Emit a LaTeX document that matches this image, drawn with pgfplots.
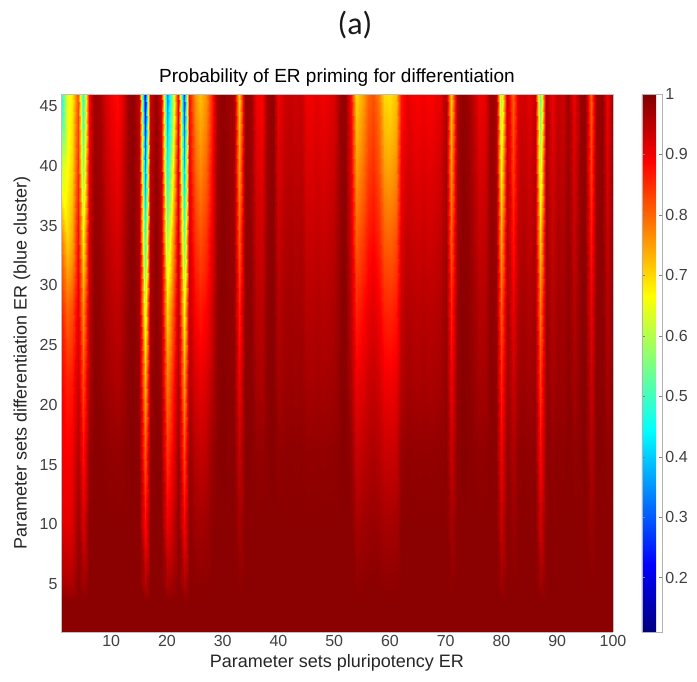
\documentclass[border=0pt]{standalone}
\usepackage{pgfplots}
\pgfplotsset{compat=1.18}
\usepackage{fontspec}
\setmainfont{Liberation Sans}
\newfontfamily\capfont{Carlito}
\begin{document}
\begin{tikzpicture}
\useasboundingbox (0,0) rectangle (697pt,682pt);
\node[font=\capfont\fontsize{32}{36}\selectfont, text=black!90] at (355pt,657pt) {(a)};
\begin{axis}[
  at={(61pt,50pt)}, anchor=south west,
  scale only axis, width=552pt, height=538pt,
  view={0}{90},
  xmin=1, xmax=100, ymin=1, ymax=46,
  xtick={10,20,30,40,50,60,70,80,90,100},
  ytick={5,10,15,20,25,30,35,40,45},
  major tick length=0pt,
  axis line style={black!25},
  tick label style={font=\fontsize{16}{18}\selectfont, text=black!75},
  /pgf/number format/assume math mode=true,
  colormap/jet, point meta min=0.11, point meta max=1,
  colorbar,
  colorbar shift/.style={xshift=29pt},
  colorbar style={
    at={(parent axis.north east)}, anchor=north west,
    width=20pt,
    ytick={0.2,0.3,0.4,0.5,0.6,0.7,0.8,0.9,1},
    yticklabel style={font=\fontsize{16}{18}\selectfont, text=black!75},
    /pgf/number format/assume math mode=true,
    axis line style={black!30},
    major tick length=3pt,
    ytick style={black!50},
    yticklabel pos=right,
  },
  xlabel={Parameter sets pluripotency ER},
  ylabel={Parameter sets differentiation ER (blue cluster)},
  every axis x label/.style={at={(axis description cs:0.5,-0.058)}, anchor=center, font=\fontsize{18}{20}\selectfont, text=black!85},
  every axis y label/.style={at={(axis description cs:-0.0706,0.5)}, rotate=90, anchor=center, font=\fontsize{18}{20}\selectfont, text=black!85},
  title={Probability of ER priming for differentiation},
  title style={at={(axis description cs:0.5,1)}, anchor=base, yshift=6pt, font=\fontsize{19}{21}\selectfont, text=black},
]
\addplot3[surf, shader=interp, point meta=z, mesh/ordering=y varies] coordinates {
(1,1,0.99) (1,3.6,0.99) (1,5,0.97) (1,10,0.92) (1,16,0.90) (1,22,0.89) (1,28,0.86) (1,34,0.78) (1,40,0.62) (1,46,0.45)

(2,1,0.99) (2,3.6,0.99) (2,5,0.96) (2,10,0.91) (2,16,0.89) (2,22,0.86) (2,28,0.80) (2,34,0.70) (2,40,0.66) (2,46,0.64)

(3,1,0.99) (3,3.6,0.99) (3,5,0.96) (3,10,0.92) (3,16,0.90) (3,22,0.87) (3,28,0.82) (3,34,0.74) (3,40,0.70) (3,46,0.68)

(4,1,0.99) (4,3.6,0.99) (4,5,0.990) (4,10,0.978) (4,16,0.960) (4,22,0.939) (4,28,0.915) (4,34,0.883) (4,40,0.850) (4,46,0.82)

(5,1,0.99) (5,3.6,0.99) (5,5,0.969) (5,10,0.922) (5,16,0.874) (5,22,0.822) (5,28,0.759) (5,34,0.670) (5,40,0.565) (5,46,0.47)

(6,1,0.99) (6,3.6,0.99) (6,5,0.99) (6,10,0.99) (6,16,0.982) (6,22,0.961) (6,28,0.948) (6,34,0.930) (6,40,0.911) (6,46,0.89)

(7,1,0.99) (7,3.6,0.99) (7,5,0.99) (7,10,0.99) (7,16,0.991) (7,22,0.989) (7,28,0.986) (7,34,0.983) (7,40,0.979) (7,46,0.975)

(8,1,0.99) (8,3.6,0.99) (8,5,0.99) (8,10,0.99) (8,16,0.989) (8,22,0.985) (8,28,0.982) (8,34,0.976) (8,40,0.971) (8,46,0.965)

(9,1,0.99) (9,3.6,0.99) (9,5,0.99) (9,10,0.99) (9,16,0.985) (9,22,0.971) (9,28,0.961) (9,34,0.949) (9,40,0.935) (9,46,0.92)

(10,1,0.99) (10,3.6,0.99) (10,5,0.99) (10,10,0.99) (10,16,0.983) (10,22,0.965) (10,28,0.952) (10,34,0.936) (10,40,0.919) (10,46,0.90)

(11,1,0.99) (11,3.6,0.99) (11,5,0.99) (11,10,0.99) (11,16,0.981) (11,22,0.958) (11,28,0.943) (11,34,0.924) (11,40,0.903) (11,46,0.88)

(12,1,0.99) (12,3.6,0.99) (12,5,0.99) (12,10,0.99) (12,16,0.984) (12,22,0.968) (12,28,0.957) (12,34,0.942) (12,40,0.927) (12,46,0.91)

(13,1,0.99) (13,3.6,0.99) (13,5,0.99) (13,10,0.99) (13,16,0.991) (13,22,0.989) (13,28,0.986) (13,34,0.983) (13,40,0.979) (13,46,0.975)

(14,1,0.99) (14,3.6,0.99) (14,5,0.99) (14,10,0.99) (14,16,0.993) (14,22,0.992) (14,28,0.991) (14,34,0.989) (14,40,0.987) (14,46,0.985)

(15,1,0.99) (15,3.6,0.99) (15,5,0.99) (15,10,0.99) (15,16,0.987) (15,22,0.977) (15,28,0.970) (15,34,0.961) (15,40,0.951) (15,46,0.94)

(16,1,0.99) (16,3.6,0.99) (16,5,0.954) (16,10,0.881) (16,16,0.808) (16,22,0.726) (16,28,0.628) (16,34,0.490) (16,40,0.327) (16,46,0.18)

(17,1,0.99) (17,3.6,0.99) (17,5,0.99) (17,10,0.99) (17,16,0.986) (17,22,0.974) (17,28,0.966) (17,34,0.955) (17,40,0.943) (17,46,0.93)

(18,1,0.99) (18,3.6,0.99) (18,5,0.99) (18,10,0.99) (18,16,0.993) (18,22,0.992) (18,28,0.991) (18,34,0.989) (18,40,0.987) (18,46,0.985)

(19,1,0.99) (19,3.6,0.99) (19,5,0.99) (19,10,0.99) (19,16,0.985) (19,22,0.971) (19,28,0.961) (19,34,0.949) (19,40,0.935) (19,46,0.92)

(20,1,0.99) (20,3.6,0.99) (20,5,0.962) (20,10,0.902) (20,16,0.842) (20,22,0.776) (20,28,0.696) (20,34,0.583) (20,40,0.450) (20,46,0.33)

(21,1,0.99) (21,3.6,0.99) (21,5,0.975) (21,10,0.940) (21,16,0.904) (21,22,0.865) (21,28,0.817) (21,34,0.750) (21,40,0.671) (21,46,0.60)

(22,1,0.99) (22,3.6,0.99) (22,5,0.99) (22,10,0.99) (22,16,0.983) (22,22,0.965) (22,28,0.952) (22,34,0.936) (22,40,0.919) (22,46,0.90)

(23,1,0.99) (23,3.6,0.99) (23,5,0.958) (23,10,0.891) (23,16,0.824) (23,22,0.749) (23,28,0.660) (23,34,0.533) (23,40,0.384) (23,46,0.25)

(24,1,0.99) (24,3.6,0.99) (24,5,0.99) (24,10,0.99) (24,16,0.981) (24,22,0.958) (24,28,0.943) (24,34,0.924) (24,40,0.903) (24,46,0.88)

(25,1,0.99) (25,3.6,0.99) (25,5,0.988) (25,10,0.972) (25,16,0.948) (25,22,0.920) (25,28,0.887) (25,34,0.845) (25,40,0.800) (25,46,0.76)

(26,1,0.99) (26,3.6,0.99) (26,5,0.987) (26,10,0.968) (26,16,0.940) (26,22,0.907) (26,28,0.869) (26,34,0.819) (26,40,0.767) (26,46,0.72)

(27,1,0.99) (27,3.6,0.99) (27,5,0.988) (27,10,0.972) (27,16,0.948) (27,22,0.920) (27,28,0.887) (27,34,0.845) (27,40,0.800) (27,46,0.76)

(28,1,0.99) (28,3.6,0.99) (28,5,0.99) (28,10,0.99) (28,16,0.979) (28,22,0.952) (28,28,0.934) (28,34,0.911) (28,40,0.887) (28,46,0.86)

(29,1,0.99) (29,3.6,0.99) (29,5,0.99) (29,10,0.99) (29,16,0.991) (29,22,0.989) (29,28,0.986) (29,34,0.983) (29,40,0.979) (29,46,0.975)

(30,1,0.99) (30,3.6,0.99) (30,5,0.99) (30,10,0.99) (30,16,0.993) (30,22,0.992) (30,28,0.991) (30,34,0.989) (30,40,0.987) (30,46,0.985)

(31,1,0.99) (31,3.6,0.99) (31,5,0.99) (31,10,0.99) (31,16,0.991) (31,22,0.989) (31,28,0.986) (31,34,0.983) (31,40,0.979) (31,46,0.975)

(32,1,0.99) (32,3.6,0.99) (32,5,0.99) (32,10,0.99) (32,16,0.989) (32,22,0.985) (32,28,0.982) (32,34,0.976) (32,40,0.971) (32,46,0.965)

(33,1,0.99) (33,3.6,0.99) (33,5,0.986) (33,10,0.966) (33,16,0.936) (33,22,0.901) (33,28,0.859) (33,34,0.806) (33,40,0.750) (33,46,0.70)

(34,1,0.99) (34,3.6,0.99) (34,5,0.99) (34,10,0.99) (34,16,0.993) (34,22,0.992) (34,28,0.991) (34,34,0.989) (34,40,0.987) (34,46,0.985)

(35,1,0.99) (35,3.6,0.99) (35,5,0.99) (35,10,0.99) (35,16,0.991) (35,22,0.989) (35,28,0.986) (35,34,0.983) (35,40,0.979) (35,46,0.975)

(36,1,0.99) (36,3.6,0.99) (36,5,0.99) (36,10,0.99) (36,16,0.983) (36,22,0.965) (36,28,0.952) (36,34,0.936) (36,40,0.919) (36,46,0.90)

(37,1,0.99) (37,3.6,0.99) (37,5,0.99) (37,10,0.99) (37,16,0.982) (37,22,0.961) (37,28,0.948) (37,34,0.930) (37,40,0.911) (37,46,0.89)

(38,1,0.99) (38,3.6,0.99) (38,5,0.99) (38,10,0.99) (38,16,0.991) (38,22,0.989) (38,28,0.986) (38,34,0.983) (38,40,0.979) (38,46,0.975)

(39,1,0.99) (39,3.6,0.99) (39,5,0.99) (39,10,0.99) (39,16,0.993) (39,22,0.992) (39,28,0.991) (39,34,0.989) (39,40,0.987) (39,46,0.985)

(40,1,0.99) (40,3.6,0.99) (40,5,0.99) (40,10,0.99) (40,16,0.983) (40,22,0.965) (40,28,0.952) (40,34,0.936) (40,40,0.919) (40,46,0.90)

(41,1,0.99) (41,3.6,0.99) (41,5,0.99) (41,10,0.99) (41,16,0.986) (41,22,0.974) (41,28,0.966) (41,34,0.955) (41,40,0.943) (41,46,0.93)

(42,1,0.99) (42,3.6,0.99) (42,5,0.99) (42,10,0.99) (42,16,0.987) (42,22,0.977) (42,28,0.970) (42,34,0.961) (42,40,0.951) (42,46,0.94)

(43,1,0.99) (43,3.6,0.99) (43,5,0.99) (43,10,0.99) (43,16,0.986) (43,22,0.974) (43,28,0.966) (43,34,0.955) (43,40,0.943) (43,46,0.93)

(44,1,0.99) (44,3.6,0.99) (44,5,0.99) (44,10,0.99) (44,16,0.987) (44,22,0.977) (44,28,0.970) (44,34,0.961) (44,40,0.951) (44,46,0.94)

(45,1,0.99) (45,3.6,0.99) (45,5,0.99) (45,10,0.99) (45,16,0.983) (45,22,0.965) (45,28,0.952) (45,34,0.936) (45,40,0.919) (45,46,0.90)

(46,1,0.99) (46,3.6,0.99) (46,5,0.99) (46,10,0.99) (46,16,0.983) (46,22,0.965) (46,28,0.952) (46,34,0.936) (46,40,0.919) (46,46,0.90)

(47,1,0.99) (47,3.6,0.99) (47,5,0.99) (47,10,0.99) (47,16,0.984) (47,22,0.968) (47,28,0.957) (47,34,0.942) (47,40,0.927) (47,46,0.91)

(48,1,0.99) (48,3.6,0.99) (48,5,0.99) (48,10,0.99) (48,16,0.983) (48,22,0.965) (48,28,0.952) (48,34,0.936) (48,40,0.919) (48,46,0.90)

(49,1,0.99) (49,3.6,0.99) (49,5,0.99) (49,10,0.99) (49,16,0.984) (49,22,0.968) (49,28,0.957) (49,34,0.942) (49,40,0.927) (49,46,0.91)

(50,1,0.99) (50,3.6,0.99) (50,5,0.99) (50,10,0.99) (50,16,0.985) (50,22,0.971) (50,28,0.961) (50,34,0.949) (50,40,0.935) (50,46,0.92)

(51,1,0.99) (51,3.6,0.99) (51,5,0.99) (51,10,0.99) (51,16,0.991) (51,22,0.989) (51,28,0.986) (51,34,0.983) (51,40,0.979) (51,46,0.975)

(52,1,0.99) (52,3.6,0.99) (52,5,0.99) (52,10,0.99) (52,16,0.993) (52,22,0.992) (52,28,0.991) (52,34,0.989) (52,40,0.987) (52,46,0.985)

(53,1,0.99) (53,3.6,0.99) (53,5,0.99) (53,10,0.99) (53,16,0.981) (53,22,0.958) (53,28,0.943) (53,34,0.924) (53,40,0.903) (53,46,0.88)

(54,1,0.99) (54,3.6,0.99) (54,5,0.986) (54,10,0.966) (54,16,0.936) (54,22,0.901) (54,28,0.859) (54,34,0.806) (54,40,0.750) (54,46,0.70)

(55,1,0.99) (55,3.6,0.99) (55,5,0.987) (55,10,0.970) (55,16,0.944) (55,22,0.913) (55,28,0.878) (55,34,0.832) (55,40,0.783) (55,46,0.74)

(56,1,0.99) (56,3.6,0.99) (56,5,0.989) (56,10,0.976) (56,16,0.956) (56,22,0.933) (56,28,0.905) (56,34,0.870) (56,40,0.833) (56,46,0.80)

(57,1,0.99) (57,3.6,0.99) (57,5,0.990) (57,10,0.978) (57,16,0.960) (57,22,0.939) (57,28,0.915) (57,34,0.883) (57,40,0.850) (57,46,0.82)

(58,1,0.99) (58,3.6,0.99) (58,5,0.989) (58,10,0.974) (58,16,0.952) (58,22,0.926) (58,28,0.896) (58,34,0.857) (58,40,0.817) (58,46,0.78)

(59,1,0.99) (59,3.6,0.99) (59,5,0.986) (59,10,0.966) (59,16,0.936) (59,22,0.901) (59,28,0.859) (59,34,0.806) (59,40,0.750) (59,46,0.70)

(60,1,0.99) (60,3.6,0.99) (60,5,0.986) (60,10,0.965) (60,16,0.934) (60,22,0.897) (60,28,0.855) (60,34,0.800) (60,40,0.742) (60,46,0.69)

(61,1,0.99) (61,3.6,0.99) (61,5,0.987) (61,10,0.968) (61,16,0.940) (61,22,0.907) (61,28,0.869) (61,34,0.819) (61,40,0.767) (61,46,0.72)

(62,1,0.99) (62,3.6,0.99) (62,5,0.99) (62,10,0.99) (62,16,0.980) (62,22,0.955) (62,28,0.939) (62,34,0.918) (62,40,0.895) (62,46,0.87)

(63,1,0.99) (63,3.6,0.99) (63,5,0.99) (63,10,0.99) (63,16,0.984) (63,22,0.968) (63,28,0.957) (63,34,0.942) (63,40,0.927) (63,46,0.91)

(64,1,0.99) (64,3.6,0.99) (64,5,0.99) (64,10,0.99) (64,16,0.983) (64,22,0.965) (64,28,0.952) (64,34,0.936) (64,40,0.919) (64,46,0.90)

(65,1,0.99) (65,3.6,0.99) (65,5,0.99) (65,10,0.99) (65,16,0.982) (65,22,0.961) (65,28,0.948) (65,34,0.930) (65,40,0.911) (65,46,0.89)

(66,1,0.99) (66,3.6,0.99) (66,5,0.99) (66,10,0.99) (66,16,0.983) (66,22,0.965) (66,28,0.952) (66,34,0.936) (66,40,0.919) (66,46,0.90)

(67,1,0.99) (67,3.6,0.99) (67,5,0.99) (67,10,0.99) (67,16,0.982) (67,22,0.961) (67,28,0.948) (67,34,0.930) (67,40,0.911) (67,46,0.89)

(68,1,0.99) (68,3.6,0.99) (68,5,0.99) (68,10,0.99) (68,16,0.983) (68,22,0.965) (68,28,0.952) (68,34,0.936) (68,40,0.919) (68,46,0.90)

(69,1,0.99) (69,3.6,0.99) (69,5,0.99) (69,10,0.99) (69,16,0.984) (69,22,0.968) (69,28,0.957) (69,34,0.942) (69,40,0.927) (69,46,0.91)

(70,1,0.99) (70,3.6,0.99) (70,5,0.99) (70,10,0.99) (70,16,0.989) (70,22,0.985) (70,28,0.982) (70,34,0.976) (70,40,0.971) (70,46,0.965)

(71,1,0.99) (71,3.6,0.99) (71,5,0.986) (71,10,0.966) (71,16,0.936) (71,22,0.901) (71,28,0.859) (71,34,0.806) (71,40,0.750) (71,46,0.70)

(72,1,0.99) (72,3.6,0.99) (72,5,0.99) (72,10,0.99) (72,16,0.989) (72,22,0.985) (72,28,0.982) (72,34,0.976) (72,40,0.971) (72,46,0.965)

(73,1,0.99) (73,3.6,0.99) (73,5,0.99) (73,10,0.99) (73,16,0.993) (73,22,0.992) (73,28,0.991) (73,34,0.989) (73,40,0.987) (73,46,0.985)

(74,1,0.99) (74,3.6,0.99) (74,5,0.99) (74,10,0.99) (74,16,0.991) (74,22,0.989) (74,28,0.986) (74,34,0.983) (74,40,0.979) (74,46,0.975)

(75,1,0.99) (75,3.6,0.99) (75,5,0.99) (75,10,0.99) (75,16,0.987) (75,22,0.977) (75,28,0.970) (75,34,0.961) (75,40,0.951) (75,46,0.94)

(76,1,0.99) (76,3.6,0.99) (76,5,0.99) (76,10,0.99) (76,16,0.983) (76,22,0.965) (76,28,0.952) (76,34,0.936) (76,40,0.919) (76,46,0.90)

(77,1,0.99) (77,3.6,0.99) (77,5,0.99) (77,10,0.99) (77,16,0.984) (77,22,0.968) (77,28,0.957) (77,34,0.942) (77,40,0.927) (77,46,0.91)

(78,1,0.99) (78,3.6,0.99) (78,5,0.99) (78,10,0.99) (78,16,0.991) (78,22,0.989) (78,28,0.986) (78,34,0.983) (78,40,0.979) (78,46,0.975)

(79,1,0.99) (79,3.6,0.99) (79,5,0.99) (79,10,0.99) (79,16,0.989) (79,22,0.985) (79,28,0.982) (79,34,0.976) (79,40,0.971) (79,46,0.965)

(80,1,0.99) (80,3.6,0.99) (80,5,0.974) (80,10,0.937) (80,16,0.900) (80,22,0.858) (80,28,0.808) (80,34,0.738) (80,40,0.655) (80,46,0.58)

(81,1,0.99) (81,3.6,0.99) (81,5,0.99) (81,10,0.99) (81,16,0.987) (81,22,0.977) (81,28,0.970) (81,34,0.961) (81,40,0.951) (81,46,0.94)

(82,1,0.99) (82,3.6,0.99) (82,5,0.989) (82,10,0.976) (82,16,0.956) (82,22,0.933) (82,28,0.905) (82,34,0.870) (82,40,0.833) (82,46,0.80)

(83,1,0.99) (83,3.6,0.99) (83,5,0.99) (83,10,0.99) (83,16,0.985) (83,22,0.971) (83,28,0.961) (83,34,0.949) (83,40,0.935) (83,46,0.92)

(84,1,0.99) (84,3.6,0.99) (84,5,0.99) (84,10,0.99) (84,16,0.986) (84,22,0.974) (84,28,0.966) (84,34,0.955) (84,40,0.943) (84,46,0.93)

(85,1,0.99) (85,3.6,0.99) (85,5,0.99) (85,10,0.99) (85,16,0.984) (85,22,0.968) (85,28,0.957) (85,34,0.942) (85,40,0.927) (85,46,0.91)

(86,1,0.99) (86,3.6,0.99) (86,5,0.99) (86,10,0.99) (86,16,0.987) (86,22,0.977) (86,28,0.970) (86,34,0.961) (86,40,0.951) (86,46,0.94)

(87,1,0.99) (87,3.6,0.99) (87,5,0.971) (87,10,0.929) (87,16,0.886) (87,22,0.838) (87,28,0.781) (87,34,0.701) (87,40,0.606) (87,46,0.52)

(88,1,0.99) (88,3.6,0.99) (88,5,0.99) (88,10,0.99) (88,16,0.989) (88,22,0.985) (88,28,0.982) (88,34,0.976) (88,40,0.971) (88,46,0.965)

(89,1,0.99) (89,3.6,0.99) (89,5,0.99) (89,10,0.99) (89,16,0.983) (89,22,0.965) (89,28,0.952) (89,34,0.936) (89,40,0.919) (89,46,0.90)

(90,1,0.99) (90,3.6,0.99) (90,5,0.99) (90,10,0.99) (90,16,0.987) (90,22,0.977) (90,28,0.970) (90,34,0.961) (90,40,0.951) (90,46,0.94)

(91,1,0.99) (91,3.6,0.99) (91,5,0.99) (91,10,0.99) (91,16,0.986) (91,22,0.974) (91,28,0.966) (91,34,0.955) (91,40,0.943) (91,46,0.93)

(92,1,0.99) (92,3.6,0.99) (92,5,0.99) (92,10,0.99) (92,16,0.991) (92,22,0.989) (92,28,0.986) (92,34,0.983) (92,40,0.979) (92,46,0.975)

(93,1,0.99) (93,3.6,0.99) (93,5,0.99) (93,10,0.99) (93,16,0.983) (93,22,0.965) (93,28,0.952) (93,34,0.936) (93,40,0.919) (93,46,0.90)

(94,1,0.99) (94,3.6,0.99) (94,5,0.99) (94,10,0.99) (94,16,0.991) (94,22,0.989) (94,28,0.986) (94,34,0.983) (94,40,0.979) (94,46,0.975)

(95,1,0.99) (95,3.6,0.99) (95,5,0.99) (95,10,0.99) (95,16,0.993) (95,22,0.992) (95,28,0.991) (95,34,0.989) (95,40,0.987) (95,46,0.985)

(96,1,0.99) (96,3.6,0.99) (96,5,0.989) (96,10,0.976) (96,16,0.956) (96,22,0.933) (96,28,0.905) (96,34,0.870) (96,40,0.833) (96,46,0.80)

(97,1,0.99) (97,3.6,0.99) (97,5,0.99) (97,10,0.99) (97,16,0.991) (97,22,0.989) (97,28,0.986) (97,34,0.983) (97,40,0.979) (97,46,0.975)

(98,1,0.99) (98,3.6,0.99) (98,5,0.99) (98,10,0.99) (98,16,0.993) (98,22,0.992) (98,28,0.991) (98,34,0.989) (98,40,0.987) (98,46,0.985)

(99,1,0.99) (99,3.6,0.99) (99,5,0.99) (99,10,0.99) (99,16,0.983) (99,22,0.965) (99,28,0.952) (99,34,0.936) (99,40,0.919) (99,46,0.90)

(100,1,0.99) (100,3.6,0.99) (100,5,0.99) (100,10,0.99) (100,16,0.991) (100,22,0.989) (100,28,0.986) (100,34,0.983) (100,40,0.979) (100,46,0.975)
};
\end{axis}
\end{tikzpicture}
\end{document}
